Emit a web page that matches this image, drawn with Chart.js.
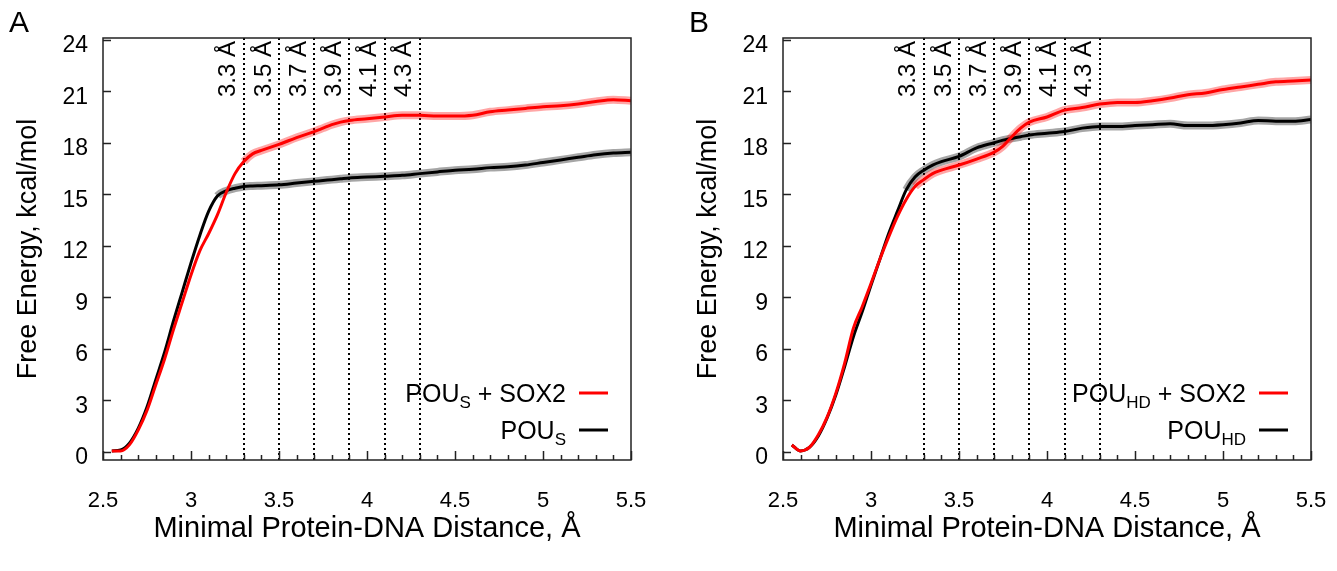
<!DOCTYPE html>
<html lang="en">
<head>
<meta charset="UTF-8">
<title>Free Energy vs Minimal Protein-DNA Distance</title>
<script src="https://cdn.jsdelivr.net/npm/chart.js"></script>
<style>
  body { margin: 0; background: #fff; width: 1337px; height: 571px; position: relative; overflow: hidden; }
  .panel { position: absolute; top: 0; }
</style>
</head>
<body>
<div class="panel" style="left:0"><canvas id="chartA" width="657" height="571"></canvas></div>
<div class="panel" style="left:680px"><canvas id="chartB" width="657" height="571"></canvas></div>
<script>
// distance grid (Å) shared by all curves
const distance = [2.55, 2.6, 2.65, 2.7, 2.75, 2.8, 2.85, 2.9, 2.95, 3.0, 3.05, 3.1, 3.15, 3.2, 3.25, 3.3, 3.35, 3.4,
  3.5, 3.6, 3.7, 3.75, 3.8, 3.85, 3.9, 4.0, 4.1, 4.2, 4.3, 4.4, 4.5, 4.6, 4.7, 4.8, 4.9, 5.0, 5.1, 5.2, 5.3, 5.4, 5.5];

// panel A
const pousSox2 = [0.05, 0.05, 0.4, 1.26, 2.4, 3.9, 5.4, 7.1, 8.7, 10.3, 11.7, 12.7, 13.8, 15.1, 16.2, 16.9, 17.35, 17.55,
  17.9, 18.3, 18.65, 18.85, 19.05, 19.2, 19.3, 19.4, 19.5, 19.6, 19.6, 19.55, 19.55, 19.6, 19.8, 19.9, 20.0, 20.1, 20.15, 20.25, 20.4, 20.5, 20.45];
const pous = [0.05, 0.1, 0.5, 1.36, 2.6, 4.2, 5.8, 7.6, 9.3, 11.0, 12.6, 14.0, 14.9, 15.2, 15.35, 15.45, 15.48, 15.5,
  15.55, 15.65, 15.75, 15.8, 15.85, 15.9, 15.95, 16.0, 16.05, 16.1, 16.2, 16.3, 16.4, 16.45, 16.55, 16.6, 16.7, 16.85, 17.0, 17.15, 17.3, 17.4, 17.45];

// panel B
const pouhdSox2 = [0.4, 0.05, 0.25, 0.97, 2.0, 3.4, 5.15, 7.2, 8.45, 9.8, 11.2, 12.5, 13.7, 14.7, 15.45, 15.85, 16.2, 16.4,
  16.7, 17.05, 17.45, 17.8, 18.35, 18.85, 19.2, 19.5, 19.9, 20.05, 20.25, 20.35, 20.35, 20.45, 20.6, 20.8, 20.9, 21.1, 21.25, 21.4, 21.55, 21.6, 21.65];
const pouhd = [0.4, 0.05, 0.25, 0.9, 1.95, 3.3, 4.95, 6.7, 8.15, 9.7, 11.2, 12.7, 14.0, 15.25, 16.0, 16.4, 16.7, 16.9,
  17.2, 17.7, 18.0, 18.15, 18.25, 18.35, 18.45, 18.55, 18.65, 18.85, 18.95, 18.95, 19.0, 19.05, 19.1, 19.0, 19.0, 19.05, 19.15, 19.3, 19.25, 19.25, 19.35];

const cutoffs = [3.3, 3.5, 3.7, 3.9, 4.1, 4.3];
const yTicks = [0, 3, 6, 9, 12, 15, 18, 21, 24];
const xTicks = [2.5, 3, 3.5, 4, 4.5, 5, 5.5];

const FONT = '"Liberation Sans", Arial, Helvetica, sans-serif';
Chart.defaults.font.family = FONT;
Chart.defaults.color = '#000';

function drawRich(ctx, parts, right, y) {
  let w = 0;
  parts.forEach(p => { ctx.font = (p.sub ? '17px ' : '25px ') + FONT; w += ctx.measureText(p.text).width; });
  let xx = right - w;
  ctx.textAlign = 'left';
  ctx.textBaseline = 'alphabetic';
  parts.forEach(p => {
    ctx.font = (p.sub ? '17px ' : '25px ') + FONT;
    ctx.fillText(p.text, xx, y + (p.sub ? 6 : 0));
    xx += ctx.measureText(p.text).width;
  });
}

const decor = {
  id: 'decor',
  beforeDatasetsDraw(chart) {
    const {ctx, chartArea: a, scales: {x}} = chart;
    ctx.save();
    ctx.strokeStyle = '#000';
    ctx.lineWidth = 2;
    ctx.setLineDash([2, 3]);
    cutoffs.forEach(c => {
      const px = Math.round(x.getPixelForValue(c));
      ctx.beginPath();
      ctx.moveTo(px, a.top);
      ctx.lineTo(px, a.bottom);
      ctx.stroke();
    });
    ctx.setLineDash([]);
    ctx.fillStyle = '#000';
    ctx.font = '24px ' + FONT;
    cutoffs.forEach(c => {
      const px = x.getPixelForValue(c);
      ctx.save();
      ctx.translate(px - 3, a.top + 3);
      ctx.rotate(-Math.PI / 2);
      ctx.textAlign = 'right';
      ctx.textBaseline = 'bottom';
      ctx.fillText(c.toFixed(1) + ' Å', 0, 0);
      ctx.restore();
    });
    ctx.restore();
  },
  afterDraw(chart, args, opts) {
    const {ctx, chartArea: a, scales: {x, y}} = chart;
    ctx.save();
    // frame
    ctx.strokeStyle = '#222';
    ctx.lineWidth = 1.5;
    ctx.strokeRect(a.left, a.top, a.right - a.left, a.bottom - a.top);
    // inward tick marks
    ctx.beginPath();
    yTicks.forEach(v => {
      const py = Math.round(y.getPixelForValue(v)) + 0.5;
      ctx.moveTo(a.left, py); ctx.lineTo(a.left + 8, py);
    });
    for (let i = 0; i <= 30; i++) {
      const v = 2.5 + i * 0.1;
      const px = Math.round(x.getPixelForValue(v)) + 0.5;
      const len = i % 5 === 0 ? 9 : 5;
      ctx.moveTo(px, a.bottom); ctx.lineTo(px, a.bottom - len);
    }
    ctx.stroke();
    // legend
    ctx.fillStyle = '#000';
    opts.entries.forEach((e, i) => {
      const cy = 393 + i * 37;
      drawRich(ctx, e.parts, 566, cy + 9);
      ctx.strokeStyle = e.color;
      ctx.lineWidth = 3;
      ctx.beginPath();
      ctx.moveTo(579, cy); ctx.lineTo(608, cy);
      ctx.stroke();
    });
    // panel letter
    ctx.font = '30px ' + FONT;
    ctx.textAlign = 'left';
    ctx.textBaseline = 'alphabetic';
    ctx.fillText(opts.letter, 9, 32);
    ctx.restore();
  }
};

// main curve plus a translucent error band drawn from the plateau onwards
function series(values, color, band, bandFrom) {
  const pts = values.map((v, i) => ({x: distance[i], y: v}));
  return [
    {
      data: pts, borderColor: color, borderWidth: 3, pointRadius: 0,
      cubicInterpolationMode: 'monotone', order: 0
    },
    {
      data: pts, borderColor: band, borderWidth: 8, pointRadius: 0,
      cubicInterpolationMode: 'monotone', order: 1,
      segment: { borderColor: s => s.p0.parsed.x < bandFrom ? 'rgba(0,0,0,0)' : band }
    }
  ];
}

function makePanel(id, letter, redVals, blackVals, subText, redBand, blackBand) {
  new Chart(document.getElementById(id), {
    type: 'line',
    data: {
      datasets: [
        ...series(redVals, '#ff0000', 'rgba(255,0,0,0.35)', redBand),
        ...series(blackVals, '#000000', 'rgba(0,0,0,0.35)', blackBand)
      ]
    },
    options: {
      responsive: false,
      animation: false,
      devicePixelRatio: 1,
      layout: { padding: { top: 38, right: 26, left: 0, bottom: 0 } },
      plugins: {
        legend: { display: false },
        tooltip: { enabled: false },
        decor: {
          letter: letter,
          entries: [
            { color: '#ff0000', parts: [{text: 'POU'}, {text: subText, sub: true}, {text: ' + SOX2'}] },
            { color: '#000000', parts: [{text: 'POU'}, {text: subText, sub: true}] }
          ]
        }
      },
      scales: {
        x: {
          type: 'linear', min: 2.5, max: 5.5,
          grid: { display: false, drawTicks: false },
          border: { display: false },
          afterBuildTicks: s => { s.ticks = xTicks.map(v => ({value: v})); },
          afterFit: s => { s.height = 111; s.paddingLeft = 0; s.paddingRight = 0; },
          ticks: { font: { size: 22 }, padding: 28, maxRotation: 0, callback: v => String(v) },
          title: { display: true, text: 'Minimal Protein-DNA Distance, Å', font: { size: 29 }, padding: { top: 0, bottom: 25 } }
        },
        y: {
          min: -0.48, max: 24.1,
          grid: { display: false, drawTicks: false },
          border: { display: false },
          afterBuildTicks: s => { s.ticks = yTicks.map(v => ({value: v})); },
          afterFit: s => { s.width = 103; s.paddingTop = 0; s.paddingBottom = 0; },
          ticks: { font: { size: 23 }, padding: 15, labelOffset: 6 },
          title: { display: true, text: 'Free Energy, kcal/mol', font: { size: 27 }, padding: { top: 12, bottom: 0 } }
        }
      }
    },
    plugins: [decor]
  });
}

makePanel('chartA', 'A', pousSox2, pous, 'S', 3.3, 3.15);
makePanel('chartB', 'B', pouhdSox2, pouhd, 'HD', 3.25, 3.2);
</script>
</body>
</html>
